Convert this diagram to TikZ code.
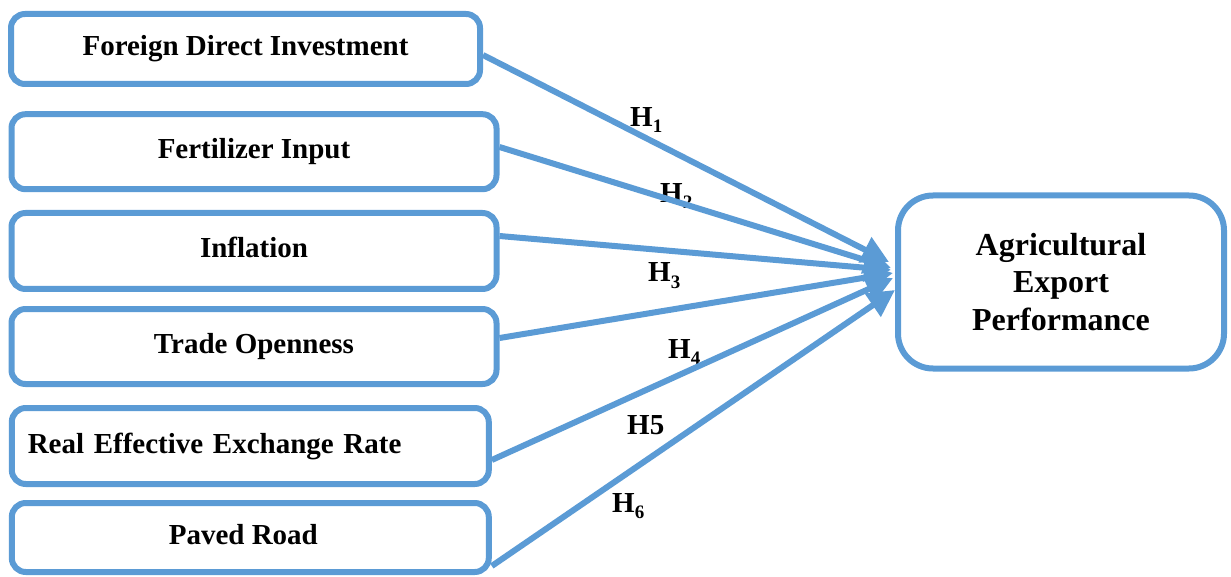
\documentclass[tikz,border=0pt]{standalone}
\usepackage{fontspec}
\setmainfont{Liberation Serif}
\usetikzlibrary{arrows.meta}
\definecolor{lineblue}{RGB}{91,155,213}
\newcommand\hsub[1]{\raisebox{-6pt}{\fontsize{19}{19}\selectfont #1}}
\begin{document}
\begin{tikzpicture}[x=1pt,y=-1pt,
  frame/.style={draw=lineblue, line width=6pt, fill=none, inner sep=0pt,
    font=\fontsize{29}{37.5}\selectfont\bfseries},
  lbox/.style={frame, rounded corners=14pt, text height=20pt, text depth=6pt},
  conn/.style={draw=lineblue, line width=6pt, -{Triangle[length=27pt,width=27pt]}},
  hlab/.style={anchor=base west, inner sep=0pt, font=\fontsize{29}{36}\selectfont\bfseries}]
\useasboundingbox (0,0) rectangle (1231,577);
% source boxes
\node[lbox, minimum width=469pt, minimum height=70pt] (b1) at (245.5,49) {Foreign Direct Investment};
\node[lbox, minimum width=485pt, minimum height=75pt] (b2) at (254,151.7) {Fertilizer Input};
\node[lbox, minimum width=485pt, minimum height=76pt] (b3) at (254,251) {Inflation};
\node[lbox, minimum width=485pt, minimum height=75pt] (b4) at (254,346.5) {Trade Openness};
\node[lbox, minimum height=76pt, text width=445pt, inner xsep=16pt, align=left] (b5) at (250.3,446) {Real Effective Exchange Rate};
\node[lbox, minimum width=477pt, minimum height=69pt] (b6) at (250.3,537.5) {\hspace*{-14pt}Paved Road};
% target box
\node[frame, rounded corners=35pt, minimum width=326pt, minimum height=173pt, align=center,
  font=\fontsize{32}{37.5}\selectfont\bfseries] (aep) at (1061,282) {Agricultural\\Export\\Performance};
% hypothesis labels
\node[hlab] (h1) at (630,127) {H\hsub{1}};
\node[hlab] (h2) at (660,203) {H\hsub{2}};
\node[hlab] (h3) at (648,282) {H\hsub{3}};
\node[hlab] (h4) at (668,358) {H\hsub{4}};
\node[hlab] (h5) at (627,434) {H5};
\node[hlab] (h6) at (612,512) {H\hsub{6}};
% arrow tips
\coordinate (t1) at (889,262);
\coordinate (t2) at (891,268);
\coordinate (t3) at (891,270);
\coordinate (t4) at (893,273);
\coordinate (t5) at (893,278);
\coordinate (t6) at (895,290);
% connectors
\draw[conn] ([yshift=-6pt]b1.east) -- (t1);
\draw[conn] ([yshift=4.7pt]b2.east) -- (t2);
\draw[conn] ([yshift=15pt]b3.east) -- (t3);
\draw[conn] ([yshift=8.5pt]b4.east) -- (t4);
\draw[conn] ([yshift=-14pt]b5.east) -- (t5);
\draw[conn] ([yshift=-28.5pt]b6.east) -- (t6);
\end{tikzpicture}
\end{document}
